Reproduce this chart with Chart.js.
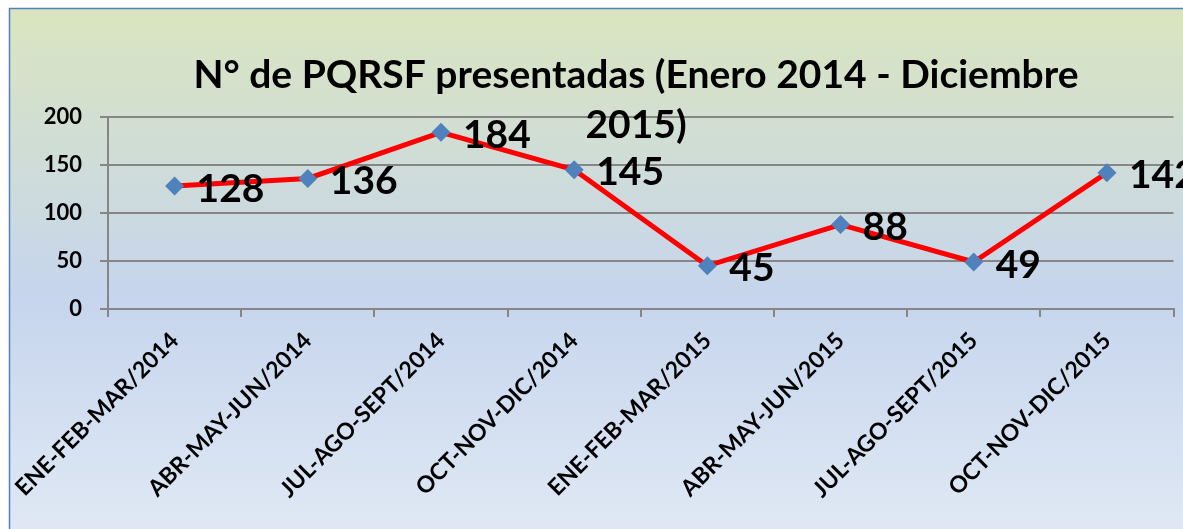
<!DOCTYPE html>
<html>
<head>
  <title>PQRSF 2014 - 2015</title>
  <script src="https://cdn.jsdelivr.net/npm/chart.js"></script>
  <style>
    html, body { margin: 0; padding: 0; background: #ffffff; overflow: hidden; }
    #wrap { width: 1183px; height: 529px; }
  </style>
</head>
<body>
  <div id="wrap"><canvas id="chart" width="1183" height="529"></canvas></div>

  <script>
    // data
    const periods = ['ENE-FEB-MAR/2014', 'ABR-MAY-JUN/2014', 'JUL-AGO-SEPT/2014', 'OCT-NOV-DIC/2014',
                     'ENE-FEB-MAR/2015', 'ABR-MAY-JUN/2015', 'JUL-AGO-SEPT/2015', 'OCT-NOV-DIC/2015'];
    const counts = [128, 136, 184, 145, 45, 88, 49, 142];
    const yTicks = [0, 50, 100, 150, 200];
    const titleLines = ['N° de PQRSF presentadas (Enero 2014 - Diciembre', '2015)'];

    const FONT = 'Lato, "Open Sans", sans-serif';
    const gridGray = '#868686';

    // background box with gradient + blue border
    const backdrop = {
      id: 'backdrop',
      beforeDraw(chart) {
        const ctx = chart.ctx;
        const w = chart.width, h = chart.height;
        ctx.save();
        ctx.fillStyle = '#ffffff';
        ctx.fillRect(0, 0, w, h);
        const g = ctx.createLinearGradient(0, 8, 0, h);
        g.addColorStop(0, '#dae5bf');
        g.addColorStop(0.55, '#c6d5ed');
        g.addColorStop(1, '#dfe8f4');
        ctx.fillStyle = g;
        ctx.fillRect(9, 8, w - 9, h - 8);
        ctx.strokeStyle = '#4f81bd';
        ctx.lineWidth = 1.5;
        ctx.beginPath();
        ctx.moveTo(9.5, h);
        ctx.lineTo(9.5, 8.5);
        ctx.lineTo(w, 8.5);
        ctx.stroke();
        ctx.restore();
      }
    };

    // value labels beside each point + the title, drawn over the plot like the original
    const overlay = {
      id: 'overlay',
      afterDatasetsDraw(chart) {
        const ctx = chart.ctx;
        const meta = chart.getDatasetMeta(0);
        ctx.save();
        ctx.fillStyle = '#000000';
        ctx.font = 'bold 39px ' + FONT;
        ctx.textAlign = 'left';
        ctx.textBaseline = 'middle';
        meta.data.forEach((pt, i) => {
          ctx.fillText(String(counts[i]), pt.x + 22, pt.y + 3);
        });
        ctx.restore();
      },
      afterDraw(chart) {
        const ctx = chart.ctx;
        ctx.save();
        ctx.fillStyle = '#000000';
        ctx.font = 'bold 39px ' + FONT;
        ctx.textAlign = 'center';
        ctx.textBaseline = 'middle';
        titleLines.forEach((line, i) => {
          ctx.fillText(line, 636, 75 + i * 50);
        });
        ctx.restore();
      }
    };

    new Chart(document.getElementById('chart'), {
      type: 'line',
      data: {
        labels: periods,
        datasets: [{
          label: 'PQRSF',
          data: counts,
          borderColor: '#ff0000',
          borderWidth: 5,
          tension: 0,
          pointStyle: 'rectRot',
          pointRadius: 9.5,
          pointBackgroundColor: '#4f81bd',
          pointBorderColor: '#4f81bd',
          pointBorderWidth: 0,
          fill: false
        }]
      },
      options: {
        responsive: false,
        animation: false,
        events: [],
        layout: { padding: { top: 117, right: 5, left: 0, bottom: 0 } },
        plugins: {
          legend: { display: false },
          tooltip: { enabled: false },
          title: { display: false }
        },
        scales: {
          x: {
            offset: true,
            grid: { offset: true, drawOnChartArea: false, drawTicks: true, tickLength: 8, color: gridGray, lineWidth: 2 },
            border: { color: gridGray, width: 2 },
            ticks: {
              autoSkip: false, minRotation: 45, maxRotation: 45, padding: 10,
              color: '#000000', font: { family: FONT, size: 23, weight: 'bold' }
            },
            afterFit(scale) {
              scale.height = 220;
              scale.paddingLeft = 0;
              scale.paddingRight = 0;
            }
          },
          y: {
            min: 0, max: 200,
            afterBuildTicks(scale) { scale.ticks = yTicks.map(v => ({ value: v })); },
            grid: { color: gridGray, lineWidth: 2, drawTicks: true, tickLength: 8 },
            border: { color: gridGray, width: 2 },
            ticks: { padding: 18, color: '#000000', font: { family: FONT, size: 22, weight: 'bold' } },
            afterFit(scale) {
              scale.width = 108;
              scale.paddingTop = 0;
              scale.paddingBottom = 0;
            }
          }
        }
      },
      plugins: [backdrop, overlay]
    });
  </script>
</body>
</html>
